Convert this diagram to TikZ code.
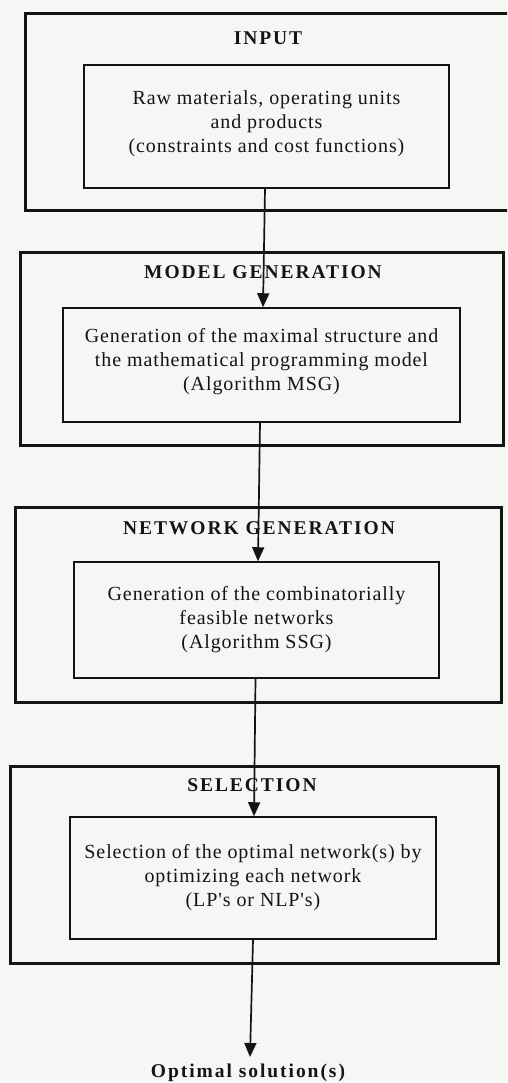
\documentclass[tikz,border=0pt]{standalone}
\usepackage{fontspec}
\setmainfont{Liberation Serif}
\newfontfamily\boxfont[LetterSpace=4.5]{Liberation Serif}
\newfontfamily\titlefont[LetterSpace=10]{Liberation Serif}
\usetikzlibrary{arrows.meta}
\definecolor{paper}{RGB}{246,246,244}
\definecolor{ink}{RGB}{20,20,20}
\tikzset{
  outerbox/.style={draw=ink, line width=3pt, minimum width=#1, inner sep=0pt},
  innerbox/.style={draw=ink, line width=1.5pt, align=center, inner sep=0pt,
    font=\boxfont\fontsize{20}{24}\selectfont, text=ink},
  titletext/.style={font=\titlefont\bfseries\fontsize{19.5}{24}\selectfont, text=ink, inner sep=0pt},
  flow/.style={draw=ink, line width=1.7pt, -{Triangle[width=12pt,length=14pt]}}
}
\begin{document}
\begin{tikzpicture}[x=1pt,y=-1pt]
\clip (0,0) rectangle (507,1083);
\fill[paper] (0,0) rectangle (507,1083);

% outer boxes
\node[outerbox=487pt, minimum height=197pt] (o1) at (268.5,112.5) {};
\node[outerbox=483pt, minimum height=193pt] (o2) at (261.5,348.5) {};
\node[outerbox=486pt, minimum height=195pt] (o3) at (258,604.5) {};
\node[outerbox=488pt, minimum height=197pt] (o4) at (254,864.5) {};

% titles
\node[titletext] (t1) at (268,38) {INPUT};
\node[titletext] (t2) at (263,272) {MODEL GENERATION};
\node[titletext] (t3) at (259,528) {NETWORK GENERATION};
\node[titletext] (t4) at (252,785) {SELECTION};

% inner boxes
\node[innerbox, minimum width=365pt, minimum height=123pt] (i1) at (266.5,126.5)
  {Raw materials, operating units\\and products\\(constraints and cost functions)\\[-15pt]\mbox{}};
\node[innerbox, minimum width=397pt, minimum height=114pt] (i2) at (261.5,365)
  {Generation of the maximal structure and\\the mathematical programming model\\(Algorithm MSG)\\[-12pt]\mbox{}};
\node[innerbox, minimum width=365pt, minimum height=116pt] (i3) at (256.5,620)
  {Generation of the combinatorially\\feasible networks\\(Algorithm SSG)};
\node[innerbox, minimum width=366pt, minimum height=122pt] (i4) at (253,878)
  {Selection of the optimal network(s) by\\optimizing each network\\(LP's or NLP's)};

% output
\node[titletext] (out) at (248,1073) {Optimal solution(s)};
\coordinate (outtip) at (250,1057);

% connectors
\draw[flow] ([xshift=-1.5pt]i1.south) -- ([xshift=1.5pt]i2.north);
\draw[flow] ([xshift=-1.5pt]i2.south) -- ([xshift=1.5pt]i3.north);
\draw[flow] ([xshift=-1pt]i3.south) -- ([xshift=1pt]i4.north);
\draw[flow] (i4.south) -- (outtip);
\end{tikzpicture}
\end{document}
